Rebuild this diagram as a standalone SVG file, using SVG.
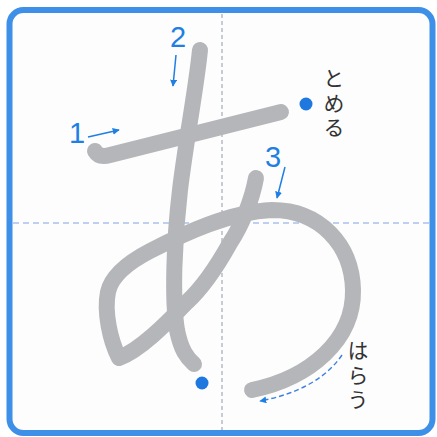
<svg xmlns="http://www.w3.org/2000/svg" width="437" height="437" viewBox="0 0 437 437">
<style>
.frame{fill:#fdfdfd;stroke:#3d8fe8;stroke-width:6}
.guide-v{stroke:#a4abba;stroke-width:1.2;stroke-dasharray:4 3;fill:none}
.guide-h{stroke:#7fa3e6;stroke-width:1.2;stroke-dasharray:6 4;fill:none}
.stroke{fill:none;stroke:#b5b6b9;stroke-width:16;stroke-linecap:round;stroke-linejoin:round}
.num{font-family:"Liberation Sans",Arial,sans-serif;font-size:29px;fill:#1f7fe2}
.arrow{stroke:#1f7fe2;stroke-width:1.5;fill:none;marker-end:url(#ah)}
.dash-arrow{stroke:#3b7fe0;stroke-width:1.4;fill:none;stroke-dasharray:5 3;marker-end:url(#ah)}
.dot{fill:#1f78e0}
.jp{font-family:"Noto Sans CJK JP","Noto Sans",sans-serif;font-size:21px;fill:#333;writing-mode:vertical-rl;letter-spacing:3.5px}
</style>
<defs>
<marker id="ah" viewBox="0 0 10 10" refX="9" refY="5" markerWidth="7" markerHeight="7" markerUnits="userSpaceOnUse" orient="auto">
<path d="M0,0 L10,5 L0,10 Z" fill="#1f7fe2"/>
</marker>
</defs>
<rect class="frame" x="9.5" y="10" width="423" height="423" rx="14"/>
<g id="guides">
<line class="guide-v" x1="222" y1="14" x2="222" y2="430"/>
<line class="guide-h" x1="13" y1="223" x2="430" y2="223"/>
</g>
<g id="stroke1"><path class="stroke" d="M95,151 Q99,158 110,155 L281,112"/></g>
<g id="stroke2"><path class="stroke" d="M200,50 C196,90 186,140 180,190 C174,240 172,300 177,330 C181,350 187,358 194,364"/></g>
<g id="stroke3"><path class="stroke" d="M256,178 C252,200 242,225 230,243 C215,270 200,290 187,302 C165,325 140,350 119,358 C110,340 104,312 108,292 C111,278 125,264 150,251 C185,233 230,212 272,210 C320,210 352,245 353,290 C354,340 310,378 252,390"/></g>
<g id="labels">
<text class="num" x="77" y="143" text-anchor="middle">1</text>
<text class="num" x="178" y="47" text-anchor="middle">2</text>
<text class="num" x="273" y="167" text-anchor="middle">3</text>
</g>
<g id="connectors">
<path class="arrow" d="M88,137 L119,130"/>
<path class="arrow" d="M176,55 L173,86"/>
<path class="arrow" d="M285,167 L277,198"/>
<path class="dash-arrow" d="M342,355 Q318,390 260,401"/>
</g>
<g id="tome">
<circle class="dot" cx="306" cy="104" r="6.5"/>
<text class="jp" x="334" y="68">とめる</text>
</g>
<g id="harau">
<circle class="dot" cx="202" cy="383" r="6.5"/>
<text class="jp" x="358" y="340">はらう</text>
</g>
</svg>
